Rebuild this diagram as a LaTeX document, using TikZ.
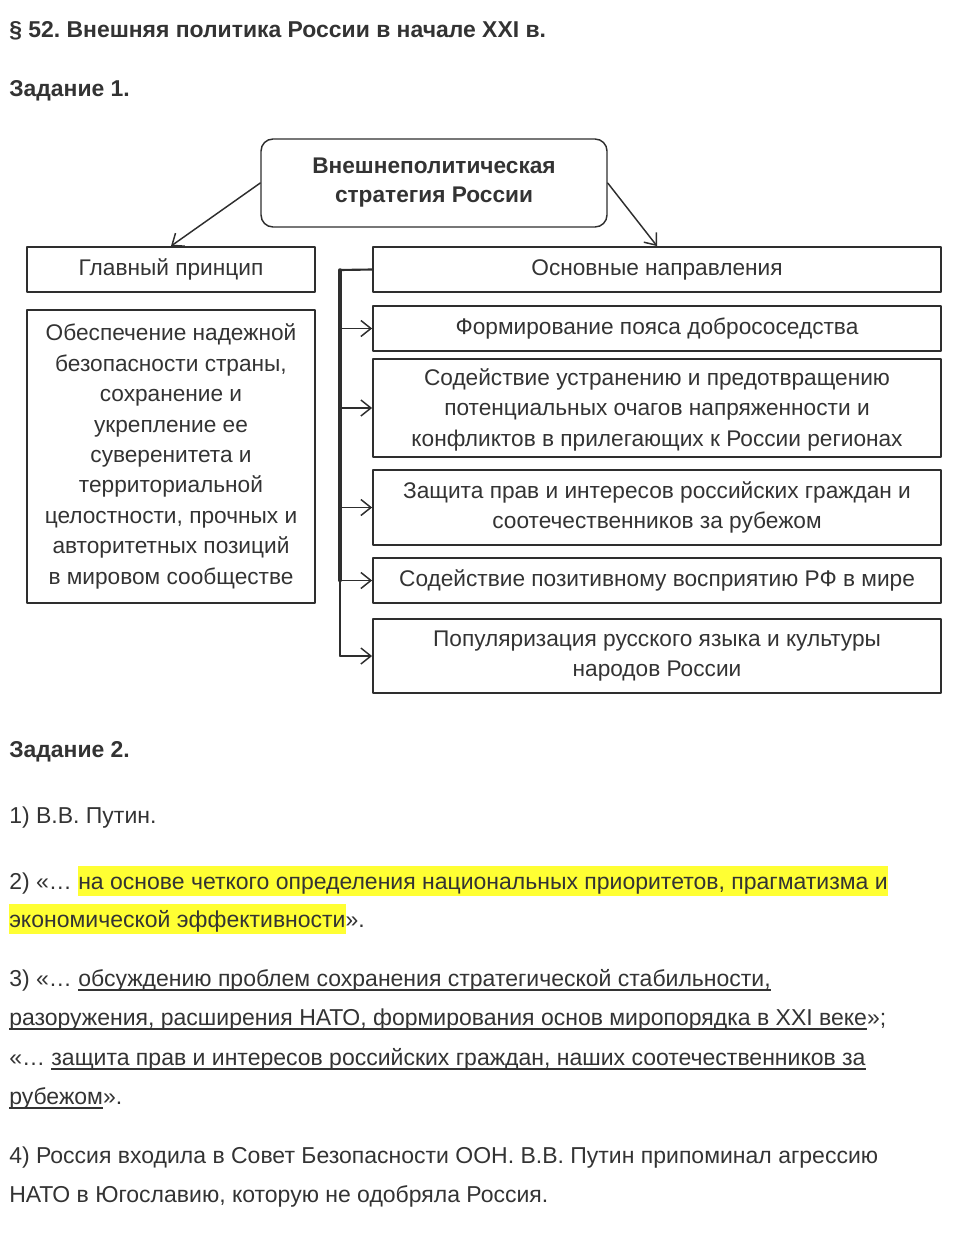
\documentclass[tikz,border=0pt]{standalone}
\usepackage{fontspec}
\setmainfont{Liberation Sans}
\usetikzlibrary{arrows.meta}
\frenchspacing

\definecolor{txt}{HTML}{333333}
\definecolor{frame}{HTML}{2E2E2E}
\definecolor{hlyellow}{HTML}{FFFF33}
% highlighted and underlined pieces of a line
\newcommand\hlx[1]{{\setlength\fboxsep{0pt}\colorbox{hlyellow}{\rule[-5.2pt]{0pt}{22.5pt}#1}}}
\newcommand\ulx[1]{\setbox0\hbox{#1}\rlap{\rule[-3.4pt]{\wd0}{0.8pt}}\box0}

\begin{document}
\begin{tikzpicture}[x=0.75pt,y=-0.75pt,line cap=round,line join=round,
  font=\fontsize{17}{22.8}\selectfont,text=txt,
  box/.style={draw=frame,line width=1.4pt,inner sep=0pt,align=center},
  topbox/.style={draw=frame,line width=1.1pt,rounded corners=9pt,inner sep=0pt,
    align=center,font=\fontsize{17}{21.75}\selectfont\bfseries},
  arr/.style={draw=frame,line width=1.1pt,-{Straight Barb[length=7.5pt,width=12pt]}},
  line/.style={anchor=base west,inner sep=0pt,font=\fontsize{17.25}{22.8}\selectfont},
  head/.style={anchor=base west,inner sep=0pt,font=\fontsize{17.2}{20}\selectfont\bfseries}]
  \useasboundingbox (0,0) rectangle (953,1256);

  \node[head] (title) at (9,38) {§ 52. Внешняя политика России в начале XXI в.};
  \node[head] (task1) at (9,96) {Задание 1.};

  % scheme
  \node[topbox,minimum width=259.5pt,minimum height=66pt] (top) at (434,183)
    {Внешнеполитическая\\стратегия России};
  \node[box,minimum width=216pt,minimum height=33.75pt] (main) at (171,269.5) {Главный принцип};
  \node[box,minimum width=216pt,minimum height=219.75pt] (princ) at (171,456.5)
    {Обеспечение надежной\\безопасности страны,\\сохранение и\\укрепление ее\\суверенитета и\\
     территориальной\\целостности, прочных и\\авторитетных позиций\\в мировом сообществе};
  \node[box,minimum width=426pt,minimum height=33.75pt] (dir) at (657,269.5) {Основные направления};
  \node[box,minimum width=426pt,minimum height=33.75pt] (d1) at (657,328.5)
    {Формирование пояса добрососедства};
  \node[box,minimum width=426pt,minimum height=73.5pt,text depth=1pt] (d2) at (657,408)
    {Содействие устранению и предотвращению\\потенциальных очагов напряженности и\\
     конфликтов в прилегающих к России регионах};
  \node[box,minimum width=426pt,minimum height=56.25pt] (d3) at (657,507.5)
    {Защита прав и интересов российских граждан и\\соотечественников за рубежом};
  \node[box,minimum width=426pt,minimum height=33.75pt] (d4) at (657,580.5)
    {Содействие позитивному восприятию РФ в мире};
  \node[box,minimum width=426pt,minimum height=55.5pt] (d5) at (657,656)
    {Популяризация русского языка и культуры\\народов России};

  \draw[arr] (top.west) -- (main.north);
  \draw[arr] (top.east) -- (dir.north);

  \coordinate (bus) at (340,270);
  \draw[draw=frame,line width=1.6pt] (dir.west) -- (bus);
  \draw[draw=frame,line width=2.6pt] (bus) -- (bus |- d4.west);
  \draw[draw=frame,line width=1.4pt] (bus |- d4.west) -- (bus |- d5.west);
  \foreach \n in {d1,d2,d3,d4,d5}
    \draw[arr] (bus |- \n.west) -- (\n.west);

  % answers
  \node[head] (task2) at (9,757) {Задание 2.};
  \node[line] (a1) at (9,823) {1) В.В. Путин.};
  \node[line] (a2a) at (9,889)
    {2) «… \hlx{на основе четкого определения национальных приоритетов, прагматизма и}};
  \node[line] (a2b) at (9,927) {\hlx{экономической эффективности}».};
  \node[line] (a3a) at (9,986)
    {3) «… \ulx{обсуждению проблем сохранения стратегической стабильности,}};
  \node[line] (a3b) at (9,1025)
    {\ulx{разоружения, расширения НАТО, формирования основ миропорядка в XXI веке}»;};
  \node[line] (a3c) at (9,1065)
    {«… \ulx{защита прав и интересов российских граждан, наших соотечественников за}};
  \node[line] (a3d) at (9,1104) {\ulx{рубежом}».};
  \node[line] (a4a) at (9,1163)
    {4) Россия входила в Совет Безопасности ООН. В.В. Путин припоминал агрессию};
  \node[line] (a4b) at (9,1202) {НАТО в Югославию, которую не одобряла Россия.};
\end{tikzpicture}
\end{document}
